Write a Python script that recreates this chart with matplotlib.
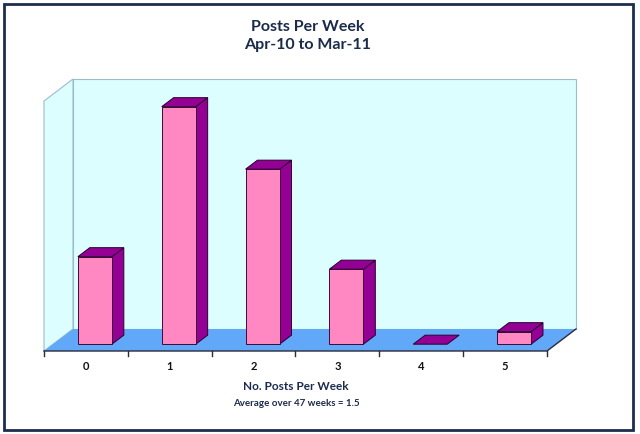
import matplotlib
matplotlib.use('Agg')
from matplotlib import pyplot as plt
from matplotlib.patches import Polygon, Rectangle

# data
categorias = ['0', '1', '2', '3', '4', '5']
semanas = [7, 19, 14, 6, 0, 1]
titulo = 'Posts Per Week\nApr-10 to Mar-11'
etiqueta_x = 'No. Posts Per Week'
nota = 'Average over 47 weeks = 1.5'
y_max = 20

# 3d look (data units)
DX, DY = 0.346, 1.76      # depth of the floor
F_BAR = 0.31              # where the bar front sits inside the depth
D_BAR = 0.41              # depth of each bar
ANCHO = 0.406

rosa = '#FF88C2'
morado = '#930093'
suelo = '#62A8F8'
pared = '#DCFEFF'
texto = '#1B2B4B'

plt.rcParams['font.family'] = ['Lato', 'DejaVu Sans']

fig = plt.figure(figsize=(6.4, 4.34), dpi=100)
ax = fig.add_axes([0, 0, 1, 1])
n = len(categorias)
px_x = 83.83
px_y = 12.5
ax.set_xlim(-0.5 - 44 / px_x, n - 0.5 + (640 - 547) / px_x)
ax.set_ylim(-(434 - 351) / px_y, 351 / px_y)
ax.axis('off')

# walls and floor
ax.add_patch(Rectangle((-0.5 + DX, DY), n, y_max, facecolor=pared,
                       edgecolor='#9DBBCB', linewidth=0.8, zorder=1))
ax.add_patch(Polygon([(-0.5, 0), (-0.5 + DX, DY), (-0.5 + DX, DY + y_max), (-0.5, y_max)],
                     closed=True, facecolor=pared, edgecolor='#9DBBCB', linewidth=0.8, zorder=1))
ax.add_patch(Polygon([(-0.5, 0), (n - 0.5, 0), (n - 0.5 + DX, DY), (-0.5 + DX, DY)],
                     closed=True, facecolor=suelo, edgecolor='none', zorder=2))
ax.plot([-0.5, n - 0.5, n - 0.5 + DX], [0, 0, DY], color='#2B2B3B', linewidth=1.0, zorder=3)
for k in range(n + 1):
    ax.plot([k - 0.5, k - 0.5], [0, -0.4], color='#2B2B3B', linewidth=1.0, zorder=3)

# bars
dx, dy = D_BAR * DX, D_BAR * DY
for k, v in enumerate(semanas):
    x0 = k + F_BAR * DX - ANCHO / 2
    x1 = x0 + ANCHO
    y0 = F_BAR * DY
    y1 = y0 + v
    if v > 0:
        ax.add_patch(Polygon([(x1, y0), (x1 + dx, y0 + dy), (x1 + dx, y1 + dy), (x1, y1)],
                             closed=True, facecolor=morado, edgecolor='#2A0030', linewidth=0.7, zorder=4))
        ax.add_patch(Rectangle((x0, y0), ANCHO, v, facecolor=rosa,
                               edgecolor='#3A0A3A', linewidth=0.7, zorder=5))
    ax.add_patch(Polygon([(x0, y1), (x1, y1), (x1 + dx, y1 + dy), (x0 + dx, y1 + dy)],
                         closed=True, facecolor=morado, edgecolor='#2A0030', linewidth=0.7, zorder=5))
    ax.text(k, -1.28, categorias[k], ha='center', va='center', fontsize=8,
            fontweight='bold', color='#111111')

fig.text(308 / 640, 1 - 36 / 434, titulo, ha='center', va='center', fontsize=11.5,
         fontweight='bold', color=texto, linespacing=1.35)
fig.text(296 / 640, 1 - 387 / 434, etiqueta_x, ha='center', va='center', fontsize=8.5,
         fontweight='bold', color=texto)
fig.text(296 / 640, 1 - 404 / 434, nota, ha='center', va='center', fontsize=7,
         fontweight='bold', color=texto)

fig.add_artist(Rectangle((4 / 640, 4 / 434), 629 / 640, 426 / 434, transform=fig.transFigure,
                         fill=False, edgecolor='#1C2D4E', linewidth=2.0))

fig.savefig('out.png', dpi=100)
